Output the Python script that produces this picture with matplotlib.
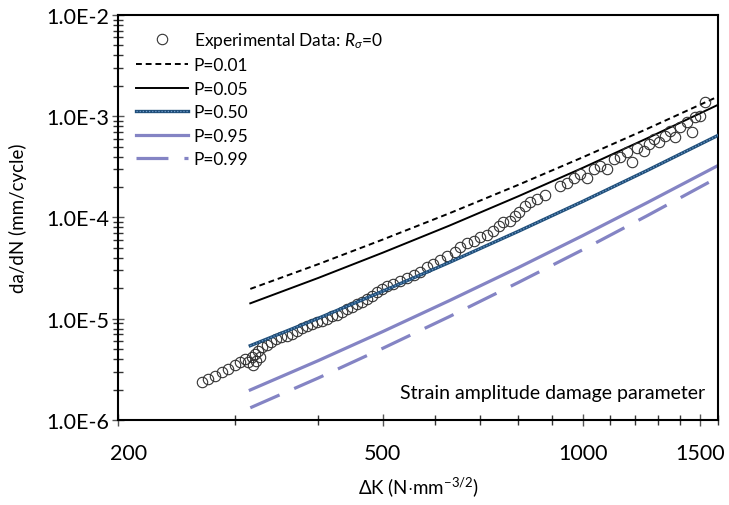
import matplotlib
matplotlib.use("Agg")
import matplotlib.pyplot as plt
import matplotlib.transforms as mtransforms
from matplotlib.legend_handler import HandlerTuple
from matplotlib.ticker import FixedLocator, NullFormatter, FixedFormatter, LogLocator

plt.rcParams["font.family"] = ["Lato", "DejaVu Sans"]
plt.rcParams["mathtext.fontset"] = "custom"
plt.rcParams["mathtext.rm"] = "Lato"
plt.rcParams["mathtext.it"] = "Lato:italic"

# Experimental crack growth data, R_sigma = 0
exp_dk = [267, 273, 280, 286, 293, 300, 305, 310, 314, 318, 321, 325, 329, 335,
          340, 346, 352, 359, 365, 371, 378, 384, 391, 398, 405, 412, 419, 427,
          434, 442, 449, 457, 465, 473, 482, 490, 499, 507, 518, 531, 544, 558,
          569, 583, 596, 610, 625, 643, 654, 669, 685, 701, 717, 734, 747, 760,
          778, 792, 801, 820, 834, 853, 878, 925, 947, 969, 992, 1015, 1039,
          1063, 1088, 1113, 1139, 1166, 1187, 1207, 1235, 1257, 1279, 1301,
          1332, 1355, 1379, 1403, 1436, 1461, 1478, 1503, 1530, 319, 322, 327]
exp_dadn = [2.39e-6, 2.54e-6, 2.74e-6, 2.96e-6, 3.19e-6, 3.49e-6, 3.77e-6,
            4.00e-6, 3.72e-6, 4.16e-6, 4.49e-6, 4.84e-6, 5.22e-6, 5.51e-6,
            5.85e-6, 6.31e-6, 6.56e-6, 6.81e-6, 7.07e-6, 7.62e-6, 8.05e-6,
            8.42e-6, 8.87e-6, 9.23e-6, 9.57e-6, 9.94e-6, 1.06e-5, 1.09e-5,
            1.16e-5, 1.25e-5, 1.30e-5, 1.40e-5, 1.47e-5, 1.57e-5, 1.69e-5,
            1.82e-5, 1.97e-5, 2.12e-5, 2.20e-5, 2.36e-5, 2.52e-5, 2.70e-5,
            2.90e-5, 3.24e-5, 3.47e-5, 3.80e-5, 4.17e-5, 4.56e-5, 5.12e-5,
            5.60e-5, 5.90e-5, 6.37e-5, 6.72e-5, 7.41e-5, 8.30e-5, 8.97e-5,
            9.30e-5, 1.04e-4, 1.13e-4, 1.31e-4, 1.41e-4, 1.52e-4, 1.67e-4,
            2.06e-4, 2.19e-4, 2.44e-4, 2.69e-4, 2.44e-4, 3.01e-4, 3.25e-4,
            3.01e-4, 3.78e-4, 3.93e-4, 4.41e-4, 3.56e-4, 4.83e-4, 4.57e-4,
            5.32e-4, 5.96e-4, 5.61e-4, 6.43e-4, 7.20e-4, 6.19e-4, 7.78e-4,
            8.71e-4, 6.94e-4, 9.76e-4, 1.01e-3, 1.37e-3, 3.49e-6, 3.83e-6,
            4.19e-6]

# Predicted curves for each failure probability
pred_dk = [316, 400, 500, 630, 800, 1000, 1250, 1600]
p001 = [1.97e-5, 3.46e-5, 6.05e-5, 1.10e-4, 2.10e-4, 3.93e-4, 7.50e-4, 1.57e-3]
p005 = [1.42e-5, 2.53e-5, 4.49e-5, 8.31e-5, 1.62e-4, 3.09e-4, 6.05e-4, 1.30e-3]
p050 = [5.42e-6, 1.01e-5, 1.87e-5, 3.60e-5, 7.30e-5, 1.44e-4, 2.91e-4, 6.49e-4]
p095 = [1.98e-6, 3.86e-6, 7.46e-6, 1.51e-5, 3.20e-5, 6.62e-5, 1.40e-4, 3.27e-4]
p099 = [1.32e-6, 2.60e-6, 5.10e-6, 1.05e-5, 2.28e-5, 4.80e-5, 1.04e-4, 2.50e-4]

x_ticks = [200, 500, 1000, 1500]
x_minor = [300, 400, 600, 700, 800, 900, 1100, 1200, 1300, 1400, 1600]
y_ticks = [1e-6, 1e-5, 1e-4, 1e-3, 1e-2]
y_ticklabels = ["1.0E-6", "1.0E-5", "1.0E-4", "1.0E-3", "1.0E-2"]

PURPLE = "#8484c4"
NAVY = "#1f4e79"
DOTS = "#6f9bcb"

fig = plt.figure(figsize=(7.29, 5.06), dpi=100)
ax = fig.add_axes([0.1623, 0.168, 0.823, 0.8004])
ax.set_xscale("log")
ax.set_yscale("log")

ax.plot(exp_dk, exp_dadn, "o", ms=7.5, mfc="none", mec="#333333", mew=0.8,
        label=r"Experimental Data: $R_\sigma$=0", zorder=3)
ax.plot(pred_dk, p001, color="black", lw=1.4, ls=(0, (3, 2)), label="P=0.01")
ax.plot(pred_dk, p005, color="black", lw=1.4, label="P=0.05")
ax.plot(pred_dk, p050, color=NAVY, lw=2.4, zorder=4)
ax.plot(pred_dk, p050, color=DOTS, lw=0.9, ls=(0, (1, 1.5)), zorder=4)
ax.plot(pred_dk, p095, color=PURPLE, lw=2.3, label="P=0.95")
ax.plot(pred_dk, p099, color=PURPLE, lw=2.3, ls=(0, (10, 5)), label="P=0.99")

# legend proxy for the two-tone P=0.50 line
base, = ax.plot([], [], color=NAVY, lw=2.4)
dots, = ax.plot([], [], color=DOTS, lw=0.9, ls=(0, (1, 1.5)))
handles, labels = ax.get_legend_handles_labels()
handles.insert(3, (base, dots))
labels.insert(3, "P=0.50")
ax.legend(handles, labels, loc="upper left", bbox_to_anchor=(0.03, 0.963),
          frameon=False, fontsize=12.5, borderaxespad=0, borderpad=0,
          handlelength=3.0, handletextpad=0.3, labelspacing=0.43,
          handler_map={tuple: HandlerTuple(ndivide=1)})

ax.set_xlim(200, 1600)
ax.set_ylim(1e-6, 1e-2)

ax.xaxis.set_major_locator(FixedLocator(x_ticks))
ax.xaxis.set_major_formatter(FixedFormatter([str(v) for v in x_ticks]))
ax.xaxis.set_minor_locator(FixedLocator(x_minor))
ax.xaxis.set_minor_formatter(NullFormatter())
ax.yaxis.set_major_locator(FixedLocator(y_ticks))
ax.yaxis.set_major_formatter(FixedFormatter(y_ticklabels))
ax.yaxis.set_minor_locator(LogLocator(base=10, subs=range(2, 10)))
ax.yaxis.set_minor_formatter(NullFormatter())

ax.tick_params(which="major", direction="inout", length=9, width=1,
               color="#555555", labelsize=15.5)
ax.tick_params(which="minor", direction="inout", length=7, width=1,
               color="#333333")
ax.tick_params(axis="x", which="major", pad=12)
ax.tick_params(axis="y", which="major", pad=2)
for s in ax.spines.values():
    s.set_linewidth(1.5)
    s.set_color("black")

# nudge the leftmost x label inward so it sits clear of the y labels
fig.canvas.draw()
first = ax.get_xticklabels()[0]
first.set_transform(first.get_transform()
                    + mtransforms.ScaledTranslation(0.1, 0, fig.dpi_scale_trans))

ax.set_xlabel(r"$\Delta$K (N$\cdot$mm$^{-3/2}$)", fontsize=13.5, labelpad=8)
ax.set_ylabel("da/dN (mm/cycle)", fontsize=13.5)
ax.yaxis.set_label_coords(-0.152, 0.5)
ax.text(0.978, 0.067, "Strain amplitude damage parameter", transform=ax.transAxes,
        ha="right", va="center", fontsize=14)

fig.savefig("out.png", dpi=100)
